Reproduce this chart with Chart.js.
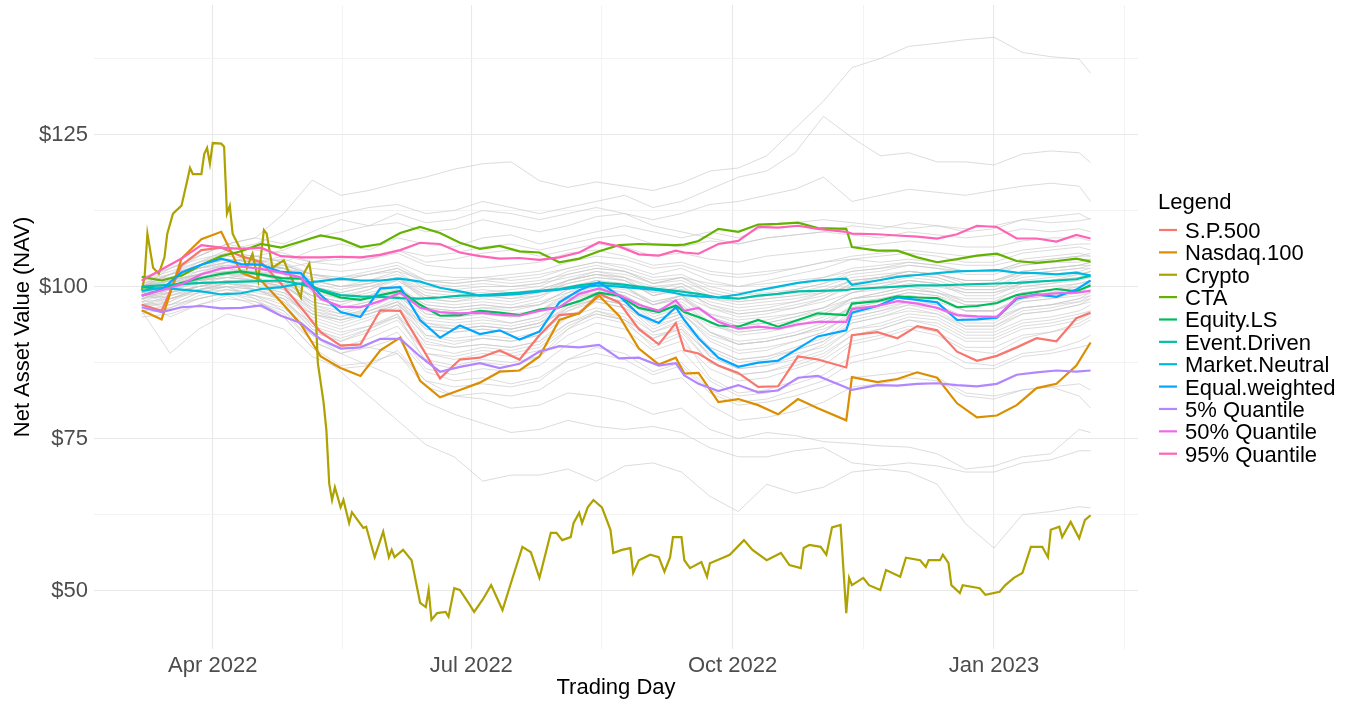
<!DOCTYPE html>
<html>
<head>
<meta charset="utf-8">
<script src="https://cdn.jsdelivr.net/npm/chart.js@4.4.0/dist/chart.umd.min.js"></script>
<style>
  html, body { margin: 0; padding: 0; background: #fff; }
  #wrap { width: 1353px; height: 706px; }
</style>
</head>
<body>
<div id="wrap"><canvas id="navChart" width="1353" height="706"></canvas></div>
<script>
// Trading days as day-of-year counted from 1 Jan 2022 (0 = Jan 1)
const days = [65, 72, 79, 86, 93, 100, 107, 114, 121, 128, 135, 142, 149, 156, 163, 170, 177, 184, 191, 198,
  205, 212, 219, 226, 233, 240, 247, 253, 256, 261, 268, 275, 282, 289, 296, 303, 313, 315, 324, 331,
  338, 345, 352, 359, 366, 373, 380, 387, 394, 399];

const spValues = [97.0, 96.0, 103.5, 106.0, 106.4, 105.0, 104.0, 100.5, 96.6, 92.5, 90.3, 90.5, 96.1, 96.0, 90.5, 84.9, 88.0, 88.3, 89.5, 88.0,
  92.0, 95.3, 95.6, 98.8, 97.4, 93.0, 90.5, 94.0, 89.5, 89.0, 87.0, 85.8, 83.5, 83.6, 88.5, 88.0, 86.7, 92.0, 92.5, 91.5,
  93.5, 92.8, 89.3, 87.8, 88.6, 90.0, 91.5, 91.0, 94.8, 95.7];
const nasdaqValues = [96.1, 94.6, 104.6, 107.8, 109.0, 102.3, 101.0, 97.5, 93.8, 88.5, 86.6, 85.3, 89.5, 91.6, 84.5, 81.8, 83.0, 84.2, 86.0, 86.2,
  88.5, 94.5, 95.6, 98.5, 95.2, 89.8, 87.2, 88.3, 85.7, 85.8, 81.0, 81.5, 80.5, 79.0, 81.5, 80.0, 78.0, 85.1, 84.3, 84.8,
  85.9, 85.0, 80.8, 78.5, 78.8, 80.5, 83.3, 84.0, 87.0, 90.8];
const ctaValues = [101.6, 101.0, 101.8, 103.6, 105.0, 105.8, 107.0, 106.4, 107.4, 108.4, 107.8, 106.5, 107.0, 108.8, 109.8, 108.8, 107.2, 106.2, 106.7, 105.8,
  105.6, 104.0, 104.6, 105.8, 106.8, 107.0, 106.9, 106.8, 106.9, 107.5, 109.5, 109.0, 110.2, 110.3, 110.5, 109.6, 109.5, 106.5, 105.9, 105.9,
  104.8, 104.0, 104.5, 105.1, 105.4, 104.2, 103.9, 104.2, 104.6, 104.1];
const equityLsValues = [99.9, 99.6, 100.6, 101.4, 102.1, 102.5, 102.0, 101.4, 101.3, 99.3, 98.2, 97.8, 98.6, 99.3, 97.0, 95.2, 95.3, 96.0, 95.7, 95.3,
  96.2, 96.6, 97.6, 99.0, 98.5, 96.5, 95.8, 96.9, 95.8, 95.0, 93.6, 93.4, 94.5, 93.4, 94.5, 95.6, 95.3, 97.2, 97.6, 98.4,
  98.2, 98.1, 96.6, 96.8, 97.3, 98.6, 99.1, 99.6, 99.2, 100.2];
const eventDrivenValues = [100.0, 100.2, 100.4, 100.6, 100.7, 100.8, 100.9, 101.0, 100.4, 99.5, 98.6, 98.4, 98.3, 98.1, 98.0, 98.2, 98.5, 98.6, 98.8, 99.0,
  99.3, 99.6, 100.2, 100.6, 100.4, 100.0, 99.6, 99.3, 99.1, 98.8, 98.2, 98.0, 98.5, 98.8, 99.2, 99.3, 99.4, 99.6, 99.8, 100.0,
  100.2, 100.2, 100.3, 100.4, 100.5, 100.6, 100.8, 101.0, 101.2, 101.8];
const marketNeutralValues = [99.3, 99.8, 99.5, 99.2, 98.7, 98.9, 99.6, 99.9, 100.5, 100.9, 101.3, 101.0, 101.0, 101.3, 100.8, 99.8, 99.2, 98.5, 98.6, 98.8,
  99.2, 99.5, 99.9, 100.2, 100.0, 99.7, 99.4, 98.9, 98.6, 98.4, 98.2, 98.7, 99.4, 100.0, 100.6, 101.0, 101.3, 100.3, 101.0, 101.6,
  101.9, 102.2, 102.5, 102.6, 102.7, 102.3, 102.2, 102.0, 102.3, 101.8];
const equalWeightedValues = [98.5, 99.5, 102.3, 103.6, 104.6, 103.7, 103.6, 102.4, 102.2, 98.6, 95.8, 95.0, 99.7, 99.9, 94.5, 91.6, 93.6, 92.2, 92.8, 91.3,
  92.6, 97.4, 99.4, 100.7, 98.5, 95.4, 94.0, 96.6, 94.5, 91.5, 88.3, 86.8, 87.5, 87.8, 89.8, 91.8, 92.8, 95.7, 96.8, 98.2,
  97.8, 97.4, 94.5, 94.6, 94.9, 98.0, 98.7, 98.3, 99.5, 101.0];
const q05Values = [96.6, 95.8, 96.6, 96.8, 96.4, 96.5, 96.9, 95.2, 94.0, 91.3, 89.8, 90.0, 91.4, 91.4, 88.5, 86.0, 86.8, 87.4, 86.6, 87.3,
  89.3, 90.2, 90.0, 90.4, 88.2, 88.3, 87.0, 87.4, 85.4, 84.0, 82.8, 83.8, 82.6, 82.9, 85.0, 85.3, 83.4, 83.0, 83.8, 83.7,
  84.0, 84.1, 83.8, 83.6, 84.0, 85.5, 85.9, 86.2, 86.0, 86.2];
const q50Values = [98.5, 99.4, 100.4, 102.0, 103.0, 103.3, 102.9, 102.3, 101.5, 98.0, 96.7, 96.6, 97.6, 99.0, 96.5, 95.8, 95.6, 95.7, 95.4, 95.2,
  96.0, 96.6, 98.8, 99.7, 98.6, 97.0, 96.0, 97.7, 96.0, 96.5, 94.2, 93.1, 93.4, 93.1, 93.8, 94.2, 94.2, 96.3, 96.8, 97.6,
  97.2, 96.5, 95.3, 95.1, 95.0, 98.2, 98.6, 98.9, 99.0, 99.3];
const q95Values = [101.0, 102.8, 104.6, 106.8, 106.4, 106.2, 106.4, 105.0, 104.8, 104.8, 104.9, 104.8, 105.2, 106.0, 107.2, 107.0, 105.6, 105.0, 104.6, 104.7,
  104.4, 104.8, 105.6, 107.3, 106.6, 105.3, 105.1, 105.9, 105.6, 105.4, 107.0, 107.5, 109.8, 109.7, 110.0, 109.5, 109.0, 108.7, 108.6, 108.4,
  108.2, 107.9, 108.6, 110.0, 109.8, 107.9, 107.9, 107.4, 108.5, 107.9];

// Crypto is much more jagged, so it gets its own finer day list
const cryptoDays = [65, 66, 67, 69, 71, 73, 74, 76, 79, 81, 82, 83, 86, 87, 88, 89, 90, 93, 94, 95,
  96, 97, 100, 102, 104, 106, 108, 109, 111, 115, 117, 121, 122, 124, 126, 127, 129, 130, 131, 132,
  133, 135, 136, 138, 139, 141, 143, 144, 147, 150, 152, 153, 154, 157, 160, 163, 165, 166, 167, 169,
  172, 173, 175, 177, 180, 182, 185, 188, 192, 195, 199, 202, 205, 209, 211, 213, 216, 217, 219, 220,
  222, 224, 227, 230, 231, 234, 237, 238, 240, 244, 247, 249, 251, 252, 255, 256, 258, 262, 264, 265,
  270, 272, 277, 280, 285, 290, 293, 297, 298, 300, 304, 306, 308, 311, 313, 314, 315, 319, 321, 325,
  327, 332, 334, 339, 341, 342, 346, 347, 349, 350, 353, 354, 360, 362, 367, 369, 372, 375, 378, 382,
  384, 385, 388, 389, 392, 395, 397, 399];
const cryptoValues = [99.3, 101.5, 108.7, 103.1, 102.1, 104.8, 108.7, 112.0, 113.3, 117.4, 119.5, 118.5, 118.5, 121.8, 122.8, 120.2, 123.6, 123.5, 123.0, 112.0,
  113.3, 108.7, 105.9, 103.1, 105.4, 101.0, 109.3, 108.7, 103.1, 104.3, 102.1, 98.2, 102.1, 103.8, 98.2, 87.4, 81.0, 76.4, 67.6, 64.9,
  67.0, 63.7, 64.9, 61.1, 62.9, 61.6, 60.3, 60.5, 55.5, 59.7, 55.5, 56.7, 55.5, 56.7, 55.0, 48.0, 47.3, 50.1, 45.2, 46.3,
  46.5, 45.7, 50.4, 50.1, 48.0, 46.5, 48.5, 50.9, 46.8, 51.3, 57.2, 56.3, 52.1, 59.5, 59.5, 58.3, 58.8, 61.1, 62.8, 61.1,
  63.7, 64.9, 63.7, 60.0, 56.2, 56.7, 57.0, 52.9, 55.0, 55.9, 55.5, 53.1, 55.5, 58.8, 58.8, 55.0, 53.7, 54.7, 52.3, 54.5,
  55.5, 55.9, 58.3, 56.7, 55.0, 56.2, 54.2, 53.7, 57.0, 57.5, 57.2, 55.9, 60.4, 60.8, 46.3, 52.1, 50.9, 52.1, 50.9, 50.1,
  53.4, 52.3, 55.4, 55.0, 53.9, 55.0, 55.0, 55.9, 54.5, 50.9, 49.6, 50.9, 50.4, 49.3, 49.8, 50.9, 52.1, 52.9, 57.2, 57.2,
  55.5, 60.0, 60.5, 58.8, 61.3, 58.6, 61.6, 62.4];

// Background portfolio paths (grey), sampled every 10 days
const greyDays = [65, 75, 85, 95, 105, 115, 125, 135, 145, 155, 165, 175, 185, 195, 205, 215, 225, 235, 245, 255,
  265, 275, 285, 295, 305, 315, 325, 335, 345, 355, 365, 375, 385, 395, 399];
const greyPaths = [
  [100, 103, 105, 107, 108, 112, 117.5, 115, 115.8, 117, 118, 119.3, 120.2, 120.5, 117.4, 116.3, 117.2, 116.5, 115.8, 117, 119, 119.5, 121.5, 126, 130.5, 136, 137.5, 139.5, 140, 140.6, 141, 138.5, 137.8, 137.4, 135.1],
  [100, 101, 104, 106, 107, 109, 111, 112, 113, 113.5, 112, 112.5, 114, 113, 112, 113, 114, 115, 113, 114, 116, 118, 119, 122, 128, 124.5, 121.5, 122, 120.5, 120.5, 120, 121.8, 122.3, 122, 120.4],
  [100, 102, 103, 104, 105, 106, 108, 109, 110, 110.5, 109, 109.5, 111, 110, 109, 110, 111.5, 112, 111, 112, 113.5, 114, 115, 116, 118, 114, 115, 116, 115.5, 115, 115.8, 116.5, 117, 116.5, 114],
  [100, 101, 102, 104, 105, 104, 106, 107, 106, 108, 107, 106.5, 108, 108.5, 107, 108, 109, 110, 109, 108, 109, 108, 110, 110.5, 111, 110.5, 110, 109.5, 110, 109.5, 110, 111, 110.5, 110.8, 111.2],
  [100, 101.5, 103, 104, 104.5, 103, 104, 105, 104.5, 106, 105, 105.5, 106.5, 107, 106, 107, 108, 108.5, 107, 106.5, 107.5, 107, 108, 108.5, 109, 108.5, 108, 109, 108.5, 108, 108.5, 109.5, 109, 109.5, 109],
  [100, 102, 105, 107, 108, 107, 109, 111, 110, 112, 110.5, 111, 112.5, 112, 111, 112, 113, 112, 110, 109, 108, 107, 108, 108.5, 109, 110, 109.5, 110.5, 110, 109, 109.5, 111, 111.5, 112, 111],
  [100, 101, 102, 103, 103.5, 103, 101.5, 101, 102, 103, 101, 100.5, 101, 101.5, 102, 103, 104, 103.5, 102, 103, 101, 100, 101, 102, 103, 104.5, 105, 105.5, 105, 104, 104, 105.5, 106, 106.5, 106],
  [100, 100.5, 101.5, 102, 102, 101.5, 99.5, 98.5, 99.5, 101, 98.5, 98, 98.5, 98, 99, 100.5, 101.5, 101, 99, 100, 97.5, 96.5, 97, 97.5, 98.5, 100.5, 101, 102, 101.5, 100, 100, 102, 102.5, 103, 103.5],
  [99, 100.5, 102.5, 103.5, 103, 102, 98, 97, 98.5, 100.5, 95.5, 95, 95.5, 95, 96, 99, 101, 100, 97, 98.5, 94, 92, 92.5, 93.5, 95, 98, 99, 100, 99.5, 97.5, 97.5, 100, 100.5, 101.5, 102.5],
  [98, 99.5, 101, 102, 101.5, 100.5, 96.5, 95, 96.5, 98.5, 93, 92.5, 93, 92.5, 93.5, 97, 99, 98, 94.5, 96, 91, 89, 89.5, 91, 92.5, 96, 97, 98, 97, 95, 95, 97.5, 98, 99, 100],
  [99, 101, 103, 104.5, 104, 103, 99, 98, 99.5, 101.5, 97.5, 97, 97.5, 97, 98, 101, 102.5, 101.5, 98.5, 100, 96.5, 95, 95.5, 96.5, 98, 100.5, 101.5, 102.5, 102, 100.5, 100.5, 102.5, 103, 103.5, 104],
  [97, 98.5, 100, 101, 100, 99, 94.5, 93, 94.5, 97, 90.5, 90, 90.5, 90, 91, 95, 97.5, 96.5, 92.5, 94.5, 88.5, 86.5, 87, 88.5, 90.5, 94, 95, 96.5, 95.5, 93, 93, 95.5, 96, 97, 98],
  [98.5, 99, 100, 100.5, 101, 100.5, 98.5, 97.5, 98, 99, 96.5, 96, 96.5, 96.5, 97, 98.5, 99.5, 99, 97, 98, 95.5, 94.5, 95, 95.5, 96.5, 98, 98.5, 99.5, 99, 98, 98, 99.5, 100, 100.5, 101],
  [97, 97.5, 100.5, 102.5, 101.5, 99.5, 93.5, 91, 93, 95.5, 87.5, 86.5, 87.5, 87, 88.5, 93, 96, 94.5, 90, 92, 85, 82.5, 83, 84.5, 87, 90.5, 91.5, 93, 92, 89.5, 89, 91.5, 92.5, 94, 95],
  [100, 102, 104, 105.5, 105, 104, 101, 100, 101, 102.5, 99.5, 99, 99, 99.5, 100, 102, 103, 102.5, 100.5, 101.5, 99.5, 98.5, 99, 99.5, 100.5, 102, 102.5, 103.5, 103, 102, 102, 103.5, 104, 104.5, 104.5],
  [96, 97, 99, 100, 99.5, 98, 93, 91.5, 93, 95, 89, 88.5, 89.5, 89, 90, 93.5, 95.5, 94.5, 91.5, 93, 87.5, 85.5, 86, 87.5, 89, 92, 93, 94.5, 94, 91.5, 91.5, 93.5, 94, 95, 96],
  [99.5, 100, 101, 101.5, 102, 102.5, 101, 100, 100.5, 101.5, 99, 98.5, 98.5, 98, 98.5, 100, 101, 100.5, 99, 99.5, 98, 97.5, 98, 98.5, 99, 100, 100.5, 101, 100.5, 99.5, 99.5, 100.5, 101, 101.5, 101.5],
  [98, 100, 102, 103, 102, 101, 96, 94.5, 96, 98, 92, 91.5, 92, 91.5, 92.5, 96.5, 98.5, 97.5, 93.5, 95, 90, 88, 88.5, 90, 91.5, 95, 96, 97.5, 96.5, 94, 94, 96.5, 97, 98, 99],
  [95, 95.5, 97, 98, 97.5, 96, 91, 89, 90.5, 92.5, 86.5, 85.5, 86.5, 86, 87, 90.5, 92.5, 91.5, 88, 89.5, 84.5, 82, 82.5, 84, 85.5, 88.5, 89.5, 91, 90, 87.5, 87, 89, 89.5, 91, 92],
  [101, 102, 103.5, 104.5, 104, 104.5, 103, 102.5, 103, 104, 102, 101.5, 101.5, 102, 102.5, 104, 105, 104.5, 103, 103.5, 102, 101.5, 102, 103, 104, 105, 105.5, 106, 105.5, 105, 105, 106, 106.5, 107, 107],
  [99, 99.5, 101.5, 102.5, 102, 101, 97.5, 96.5, 97.5, 99.5, 94, 93.5, 94, 93.5, 94.5, 97.5, 99.5, 98.5, 95.5, 97, 92.5, 90.5, 91, 92, 93.5, 97, 98, 99, 98.5, 96, 96, 98.5, 99, 100, 100.5],
  [97.5, 98, 99, 99.5, 99, 98, 95.5, 94.5, 95.5, 97, 93.5, 93, 93.5, 93, 94, 96, 97.5, 96.5, 94, 95.5, 92, 90.5, 91, 92, 93, 95, 96, 97, 96.5, 95, 95, 96.5, 97, 97.5, 98],
  [101, 103, 105, 107, 106, 105.5, 104, 104.5, 105, 106, 104, 104.5, 105.5, 106, 105, 106, 107, 106.5, 105, 105.5, 104.5, 104, 105, 105.5, 106, 106.5, 107, 107.5, 107, 106.5, 106.5, 107.5, 108, 108, 107.5],
  [100, 100.5, 102, 103, 104, 105, 104, 103.5, 104.5, 105.5, 103.5, 103, 103, 103.5, 104, 105.5, 106, 105, 103.5, 104, 102.5, 102, 102.5, 103, 104, 104.5, 104, 104.5, 104, 103.5, 103.5, 104.5, 105, 105.5, 105],
  [99, 97, 99, 100, 98, 95, 90, 86, 82, 78, 74, 72, 68, 69, 69, 70, 68, 70.5, 71, 69.5, 65.5, 63, 67.5, 66, 67, 69.5, 70, 69.5, 67.5, 61, 57, 62.5, 63, 63.8, 63.6],
  [99, 98, 99.5, 100, 98.5, 96, 92, 89, 87, 85, 81, 79, 77.5, 76, 76.5, 78, 77, 76.5, 77, 76, 73.5, 72, 72, 73, 73.5, 71, 70.5, 71, 70.5, 69.5, 69.5, 71, 71.5, 73, 73],
  [99.5, 98.5, 100, 101, 99.5, 97.5, 93, 90.5, 90, 89, 84.5, 82, 81.5, 80, 80.5, 82.5, 82, 81, 79, 80, 76.5, 75, 76, 75.5, 74.5, 74.2, 73.8, 73.6, 72.5, 70, 70.5, 72, 72.5, 76.5, 76],
  [98, 96, 98, 99, 97.5, 95.5, 91, 89, 90, 91.5, 86, 84.5, 85, 84, 85, 88, 89, 88, 85.5, 87, 82.5, 80.5, 81, 82, 83.5, 85, 85.5, 86, 85, 82.5, 82, 83, 83.5, 82, 80],
  [97.5, 95, 97, 98.5, 97, 95, 90, 87, 87.5, 89, 83.5, 82, 82.5, 82, 83, 86, 87.5, 86.5, 84, 85, 80.5, 78, 78.5, 79.5, 81, 83.5, 84, 85, 84.5, 82, 81.5, 83, 83.5, 84, 83],
  [96, 89, 93, 95.5, 94.5, 93, 88.5, 86.5, 87, 89.5, 84.5, 83.5, 84, 83.5, 84.5, 88, 90, 89, 86, 87.5, 83, 81, 81.5, 83, 84.5, 87.5, 88.5, 89.5, 89, 86.5, 86.5, 88.5, 89, 90, 90.5],
  [100.5, 101.5, 103, 104, 103, 102.5, 100, 99, 100, 101, 98, 97.5, 98.5, 99, 99.5, 101, 102, 101, 98.5, 99.5, 97, 96, 96.5, 97.5, 99, 101, 101.5, 102, 101.5, 100, 100, 101.5, 102, 102.5, 103],
  [99, 99.5, 100.5, 101.5, 101, 100, 97, 96, 97, 98.5, 95, 94.5, 95, 94, 95, 98, 99.5, 98.5, 96, 97.5, 94, 92.5, 93, 94, 95.5, 98, 99, 100, 99, 97, 97, 99, 99.5, 100.5, 101],
  [101, 102.5, 104, 105, 104.5, 103.5, 102, 101.5, 102.5, 103.5, 101, 101, 101.5, 101, 101.5, 103, 104, 103, 101.5, 102, 100, 99, 99.5, 100.5, 101.5, 103, 103.5, 104, 103.5, 102.5, 102.5, 104, 104.5, 105, 105],
  [98, 98.5, 99.5, 100.5, 100, 98.5, 95, 93.5, 95, 96.5, 92, 91, 91.5, 91, 92, 95, 96.5, 95.5, 92.5, 94, 90, 88, 88.5, 89.5, 91, 94, 95, 96, 95.5, 93.5, 93.5, 95.5, 96, 97, 97.5],
  [99.5, 101, 102, 102.5, 102.5, 102, 99.5, 98, 99, 100, 97, 96.5, 97, 96.5, 97, 99.5, 100.5, 100, 97.5, 98.5, 95.5, 94, 94.5, 95.5, 96.5, 99, 100, 101, 100.5, 99, 99, 100.5, 101, 101.5, 102],
  [97.5, 99, 101, 102, 101, 99.5, 95.5, 94, 95.5, 97.5, 91.5, 90.5, 91.5, 91, 92, 96, 98, 97, 93, 95, 89.5, 87.5, 88, 89.5, 91, 94.5, 95.5, 97, 96, 93.5, 93.5, 96, 96.5, 97.5, 98.5],
  [100, 100, 101, 102, 102.5, 103, 102, 101.5, 102, 102.5, 101, 100.5, 101, 100.5, 101, 102, 103, 102.5, 101, 101.5, 100.5, 100, 100.5, 101, 101.5, 102.5, 103, 103.5, 103, 102.5, 102.5, 103.5, 104, 104, 104.5],
  [98.5, 100, 101.5, 102.5, 102, 101, 97, 95.5, 97, 99, 94, 93, 93.5, 93, 94, 97.5, 99, 98, 95, 96.5, 92.5, 90.5, 91, 92, 93.5, 96.5, 97.5, 98.5, 98, 96, 96, 98, 98.5, 99.5, 100],
  [96.5, 97.5, 99.5, 100.5, 99.5, 98, 93.5, 92, 93.5, 95.5, 90, 89, 90, 89.5, 90.5, 94, 96, 95, 91.5, 93.5, 88.5, 86.5, 87, 88, 89.5, 93, 94, 95.5, 95, 92.5, 92.5, 94.5, 95, 96, 97],
  [100, 101, 102, 102.5, 103, 103.5, 102, 101, 101, 102, 100, 99.5, 100, 100, 100.5, 101.5, 102.5, 102, 100.5, 101, 99, 98, 98.5, 99, 100, 101.5, 102, 102.5, 102, 101, 101, 102.5, 103, 103.5, 103.5],
  [99, 100, 101, 101.5, 101, 100, 97.5, 96.5, 97.5, 99, 96, 95.5, 96, 95.5, 96, 98.5, 100, 99, 97, 98, 95, 93.5, 94, 95, 96, 98, 98.5, 99.5, 99, 97.5, 97.5, 99, 99.5, 100, 100.5],
  [97, 97, 98, 99, 98.5, 97.5, 94, 92.5, 93.5, 95, 91, 90, 90.5, 90, 91, 94, 95.5, 94.5, 92, 93, 89, 87, 87.5, 89, 90, 93, 93.5, 95, 94.5, 92, 92, 94, 94.5, 95.5, 96],
  [101.5, 103, 104.5, 105.5, 105, 104, 102, 101, 102, 103, 100.5, 100, 100.5, 100, 100.5, 102.5, 103.5, 102.5, 100.5, 101.5, 99, 98, 98.5, 99.5, 100.5, 102.5, 103, 104, 103.5, 102.5, 102.5, 104, 104.5, 105, 105.5],
  [99.5, 99, 100, 101, 100.5, 99.5, 96, 95, 96, 97.5, 93.5, 93, 93.5, 93, 94, 96.5, 98, 97, 94.5, 96, 92.5, 91, 91.5, 92.5, 94, 96.5, 97.5, 98.5, 98, 96, 96, 98, 98.5, 99, 99.5],
  [98, 99.5, 101, 101.5, 101, 100.5, 98.5, 97.5, 98.5, 99.5, 97, 96.5, 97, 96.5, 97.5, 99, 100, 99.5, 97.5, 98.5, 96.5, 95.5, 96, 96.5, 97.5, 99, 99.5, 100.5, 100, 99, 99, 100, 100.5, 101, 101.5],
  [96, 96.5, 98, 99, 98, 96.5, 92, 90, 91.5, 93.5, 88, 87, 88, 87.5, 88.5, 92, 94, 93, 89.5, 91, 86.5, 84.5, 85, 86.5, 88, 91, 92, 93.5, 92.5, 90, 90, 92, 92.5, 93.5, 94.5],
  [100, 101.5, 103, 103.5, 103.5, 103, 100.5, 99.5, 100.5, 101.5, 98.5, 98, 98.5, 98.5, 99, 101, 102, 101.5, 99.5, 100.5, 98, 97, 97.5, 98, 99, 101, 101.5, 102.5, 102, 101, 101, 102.5, 103, 103.5, 104],
  [98.5, 98, 99.5, 100, 99.5, 98.5, 95.5, 94.5, 95.5, 97, 93, 92.5, 93, 92.5, 93.5, 96.5, 98, 97, 94, 95.5, 91.5, 89.5, 90, 91, 92.5, 95.5, 96.5, 97.5, 97, 94.5, 94.5, 96.5, 97, 98, 98.5],
  [100.5, 102, 103.5, 104.5, 104, 103, 100, 99, 100, 101.5, 98, 97.5, 98, 97.5, 98.5, 100.5, 101.5, 101, 98.5, 99.5, 97, 95.5, 96, 97, 98, 100, 100.5, 101.5, 101, 99.5, 99.5, 101, 101.5, 102, 102.5],
  [97, 98, 99.5, 100.5, 100, 99, 96.5, 95.5, 96, 97.5, 94.5, 94, 94.5, 94, 95, 97, 98.5, 97.5, 95.5, 96.5, 93.5, 92.5, 93, 93.5, 94.5, 96.5, 97, 98, 97.5, 96, 96, 97.5, 98, 98.5, 99],
  [99, 100.5, 102, 103, 102.5, 101.5, 98.5, 97.5, 98.5, 100, 96.5, 96, 96.5, 96, 97, 99.5, 101, 100, 97, 98.5, 95, 93.5, 94, 95, 96.5, 99, 100, 101, 100.5, 98.5, 98.5, 100.5, 101, 102, 102.5],
  [101, 101.5, 102.5, 103.5, 103.5, 103, 101, 100, 100.5, 101.5, 99.5, 99, 99.5, 99, 99.5, 101, 102, 101.5, 100, 100.5, 98.5, 97.5, 98, 98.5, 99.5, 101, 101.5, 102.5, 102, 101, 101, 102, 102.5, 103, 103],
  [95.5, 96.5, 98.5, 99.5, 98.5, 97, 92.5, 91, 92.5, 94.5, 89, 88, 89, 88.5, 89.5, 93, 95, 94, 90.5, 92.5, 87.5, 85.5, 86, 87, 88.5, 92, 93, 94.5, 93.5, 91, 91, 93, 93.5, 94.5, 95.5],
  [98, 99, 100, 101, 101, 100, 97.5, 96.5, 97, 98.5, 95.5, 95, 95.5, 95, 96, 98, 99, 98.5, 96, 97, 94, 93, 93.5, 94.5, 95.5, 97.5, 98, 99, 98.5, 97, 97, 98.5, 99, 99.5, 100]
];

const seriesNames = ["S.P.500", "Nasdaq.100", "Crypto", "CTA", "Equity.LS", "Event.Driven",
  "Market.Neutral", "Equal.weighted", "5% Quantile", "50% Quantile", "95% Quantile"];
const seriesColors = ["#F8766D", "#DB8E00", "#AEA200", "#64B200", "#00BD5C", "#00C1A7",
  "#00BADE", "#00A6FF", "#B385FF", "#EF67EB", "#FF63B6"];
const seriesValues = [spValues, nasdaqValues, cryptoValues, ctaValues, equityLsValues, eventDrivenValues,
  marketNeutralValues, equalWeightedValues, q05Values, q50Values, q95Values];

// Axis breaks
const xMajorDays = [90, 181, 273, 365];
const xMajorLabels = ["Apr 2022", "Jul 2022", "Oct 2022", "Jan 2023"];
const xMinorDays = [135.5, 227, 319, 411];
const yMajor = [50, 75, 100, 125];
const yMinor = [62.5, 87.5, 112.5, 137.5];

const FONT = "'Liberation Sans', Arial, sans-serif";

function toPoints(xs, ys) {
  return xs.map((d, i) => ({ x: d, y: ys[i] }));
}

const datasets = [];
seriesNames.forEach((name, i) => {
  datasets.push({
    label: name,
    data: toPoints(i === 2 ? cryptoDays : days, seriesValues[i]),
    borderColor: seriesColors[i],
    borderWidth: 2.2,
    pointRadius: 0,
    tension: 0,
    order: 11 - i,
  });
});
greyPaths.forEach((path) => {
  datasets.push({
    label: "",
    data: toPoints(greyDays, path),
    borderColor: "rgba(200, 200, 200, 0.7)",
    borderWidth: 0.9,
    pointRadius: 0,
    tension: 0,
    order: 20,
  });
});

// ggplot-style legend drawn to the right of the panel
const legendPlugin = {
  id: "ggLegend",
  afterDraw(chart) {
    const ctx = chart.ctx;
    ctx.save();
    ctx.font = "22px " + FONT;
    ctx.fillStyle = "#000";
    ctx.textBaseline = "alphabetic";
    ctx.textAlign = "left";
    ctx.fillText("Legend", 1158, 209);
    seriesNames.forEach((name, i) => {
      const y = 238 + i * 22.37;
      ctx.strokeStyle = seriesColors[i];
      ctx.lineWidth = 2.2;
      ctx.beginPath();
      ctx.moveTo(1159, y - 8);
      ctx.lineTo(1177, y - 8);
      ctx.stroke();
      ctx.fillText(name, 1185, y);
    });
    ctx.restore();
  },
};

const ctx = document.getElementById("navChart").getContext("2d");
new Chart(ctx, {
  type: "line",
  data: { datasets: datasets },
  options: {
    responsive: false,
    animation: false,
    devicePixelRatio: 1,
    events: [],
    layout: { padding: { left: 0, right: 215, top: 5, bottom: 0 } },
    plugins: { legend: { display: false }, tooltip: { enabled: false } },
    scales: {
      x: {
        type: "linear",
        min: 48.2,
        max: 415.7,
        afterBuildTicks: (axis) => {
          axis.ticks = xMajorDays.concat(xMinorDays).sort((a, b) => a - b).map((v) => ({ value: v }));
        },
        afterFit: (scale) => {
          scale.height = 57;
          scale.paddingLeft = 0;
          scale.paddingRight = 0;
        },
        ticks: {
          autoSkip: false,
          maxRotation: 0,
          padding: 4,
          color: "#4d4d4d",
          font: { family: FONT, size: 22 },
          callback: (v) => {
            const i = xMajorDays.indexOf(v);
            return i >= 0 ? xMajorLabels[i] : "";
          },
        },
        grid: {
          drawTicks: false,
          color: (c) => (xMajorDays.includes(c.tick.value) ? "#e9e9e9" : "#f0f0f0"),
          lineWidth: (c) => (xMajorDays.includes(c.tick.value) ? 1.1 : 0.8),
        },
        border: { display: false },
        title: {
          display: true,
          text: "Trading Day",
          color: "#000",
          font: { family: FONT, size: 22 },
          padding: { top: 0, bottom: 5 },
        },
      },
      y: {
        type: "linear",
        min: 40.4,
        max: 146.3,
        afterBuildTicks: (axis) => {
          axis.ticks = yMajor.concat(yMinor).sort((a, b) => a - b).map((v) => ({ value: v }));
        },
        afterFit: (scale) => {
          scale.width = 94;
          scale.paddingTop = 0;
          scale.paddingBottom = 0;
        },
        ticks: {
          padding: 6,
          color: "#4d4d4d",
          font: { family: FONT, size: 22 },
          callback: (v) => (yMajor.includes(v) ? "$" + v : ""),
        },
        grid: {
          drawTicks: false,
          color: (c) => (yMajor.includes(c.tick.value) ? "#e9e9e9" : "#f0f0f0"),
          lineWidth: (c) => (yMajor.includes(c.tick.value) ? 1.1 : 0.8),
        },
        border: { display: false },
        title: {
          display: true,
          text: "Net Asset Value (NAV)",
          color: "#000",
          font: { family: FONT, size: 22 },
          padding: { top: 10, bottom: 0 },
        },
      },
    },
  },
  plugins: [legendPlugin],
});
</script>
</body>
</html>
